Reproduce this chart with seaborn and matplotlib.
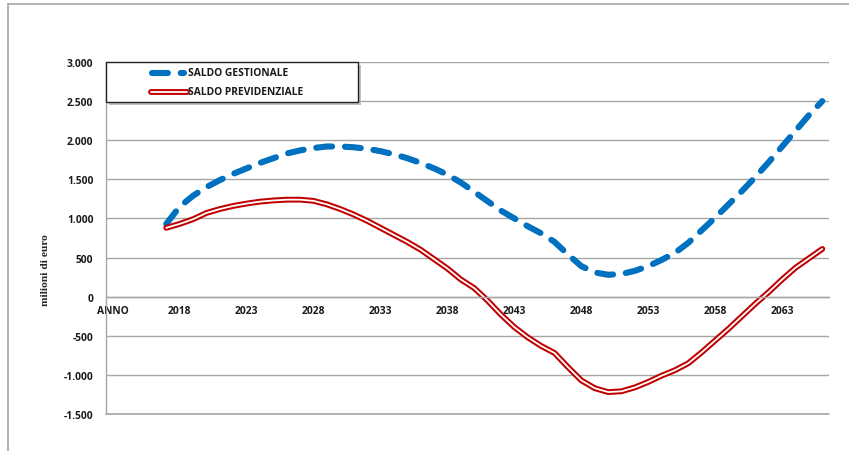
import matplotlib
matplotlib.use("Agg")
import matplotlib.pyplot as plt
import matplotlib.patheffects as pe
from matplotlib.patches import Rectangle
from matplotlib.lines import Line2D
import seaborn as sns
import pandas as pd

# Annual balances, millions of euro
anni = list(range(2017, 2067))
saldo_gestionale = [
    930, 1150, 1290, 1400, 1490, 1570, 1640, 1710, 1770, 1830,
    1870, 1900, 1920, 1920, 1910, 1890, 1860, 1820, 1770, 1710,
    1640, 1560, 1460, 1340, 1220, 1100, 1000, 900, 810, 700,
    540, 390, 310, 280, 290, 330, 390, 470, 560, 690,
    850, 1010, 1180, 1350, 1530, 1720, 1920, 2120, 2320, 2500,
]
saldo_previdenziale = [
    880, 930, 990, 1070, 1120, 1160, 1190, 1215, 1230, 1240,
    1240, 1225, 1180, 1120, 1050, 970, 880, 790, 700, 600,
    480, 360, 220, 110, -50, -230, -390, -520, -630, -720,
    -900, -1070, -1170, -1220, -1210, -1160, -1090, -1010, -940, -850,
    -710, -560, -410, -250, -90, 60, 220, 370, 490, 610,
]
etichette_x = ["ANNO", "2018", "2023", "2028", "2033", "2038", "2043", "2048", "2053", "2058", "2063"]
posizioni_x = [2013, 2018, 2023, 2028, 2033, 2038, 2043, 2048, 2053, 2058, 2063]
valori_y = [3000, 2500, 2000, 1500, 1000, 500, 0, -500, -1000, -1500]

df = pd.DataFrame({"anno": anni, "gest": saldo_gestionale, "prev": saldo_previdenziale})

sns.set_theme(style="white")
FONT = ["Open Sans", "DejaVu Sans"]
plt.rcParams["font.family"] = FONT

BLU = "#0070C0"
ROSSO = "#C00000"
GRIGIO = "#A6A6A6"
TESTO = "#1a1a1a"
FS = 7.4

fig = plt.figure(figsize=(8.49, 4.52), dpi=100)
ax = fig.add_axes([106 / 849, 1 - 415 / 452, (829 - 106) / 849, (415 - 63) / 452])

# category axis crosses the value axis at zero
ax.spines["bottom"].set_position(("data", 0))

# outer chart frame (top and left edges)
fig.add_artist(Line2D([8 / 849, 1], [1 - 5 / 452, 1 - 5 / 452], color=GRIGIO, lw=1.2))
fig.add_artist(Line2D([8 / 849, 8 / 849], [0, 1 - 5 / 452], color=GRIGIO, lw=1.2))

sns.lineplot(data=df, x="anno", y="gest", ax=ax, color=BLU, lw=4.4,
             linestyle=(0, (2.6, 2.1)), dash_capstyle="round")
sns.lineplot(data=df, x="anno", y="prev", ax=ax, color="white", lw=1.3,
             path_effects=[pe.Stroke(linewidth=4.2, foreground=ROSSO), pe.Normal()])

ax.set_xlim(2012.5, 2066.5)
ax.set_ylim(-1500, 3000)
ax.set_yticks(valori_y)
ax.set_yticklabels([f"{v:,}".replace(",", ".") for v in valori_y],
                   fontsize=FS, fontweight="bold", color=TESTO)
ax.set_xticks(posizioni_x)
ax.set_xticklabels(etichette_x, fontsize=FS, fontweight="bold", color=TESTO)
ax.tick_params(axis="both", length=0)
ax.tick_params(axis="y", pad=9)
ax.tick_params(axis="x", pad=6)

ax.grid(axis="y", color=GRIGIO, lw=1.0)
ax.grid(axis="x", visible=False)
for s in ["top", "right"]:
    ax.spines[s].set_visible(False)
ax.spines["left"].set_color(GRIGIO)
ax.spines["left"].set_linewidth(1.0)
ax.spines["bottom"].set_color(GRIGIO)
ax.spines["bottom"].set_linewidth(1.0)
ax.axhline(-1500, color=GRIGIO, lw=1.2, clip_on=False, zorder=0.5)

ax.set_xlabel("")
ax.set_ylabel("")
fig.text(45 / 849, 1 - 270 / 452, "milioni di euro", rotation=90, ha="center", va="center",
         fontsize=8.2, fontweight="bold", family=["Liberation Serif", "DejaVu Serif"])

# legend box with shadow
lx0, lx1, ly0, ly1 = 106 / 849, 358 / 849, 1 - 103 / 452, 1 - 63 / 452
fig.add_artist(Rectangle((lx0 + 3 / 849, ly0 - 3 / 452), lx1 - lx0, ly1 - ly0,
                         facecolor="#BFBFBF", edgecolor="none", zorder=4))
fig.add_artist(Rectangle((lx0, ly0), lx1 - lx0, ly1 - ly0,
                         facecolor="white", edgecolor="#222222", lw=1.0, zorder=5))
y1 = 1 - 74 / 452
y2 = 1 - 93 / 452
fig.add_artist(Line2D([152 / 849, 184 / 849], [y1, y1], color=BLU, lw=4.4,
                      linestyle=(0, (2.6, 2.1)), dash_capstyle="round", zorder=6))
fig.add_artist(Line2D([151 / 849, 187 / 849], [y2, y2], color="white", lw=1.3, zorder=6,
                      path_effects=[pe.Stroke(linewidth=4.2, foreground=ROSSO), pe.Normal()]))
fig.text(188 / 849, y1, "SALDO GESTIONALE", fontsize=FS, fontweight="bold",
         va="center", ha="left", color=TESTO, zorder=6)
fig.text(188 / 849, y2, "SALDO PREVIDENZIALE", fontsize=FS, fontweight="bold",
         va="center", ha="left", color=TESTO, zorder=6)

fig.savefig("out.png", dpi=100, facecolor="white")
